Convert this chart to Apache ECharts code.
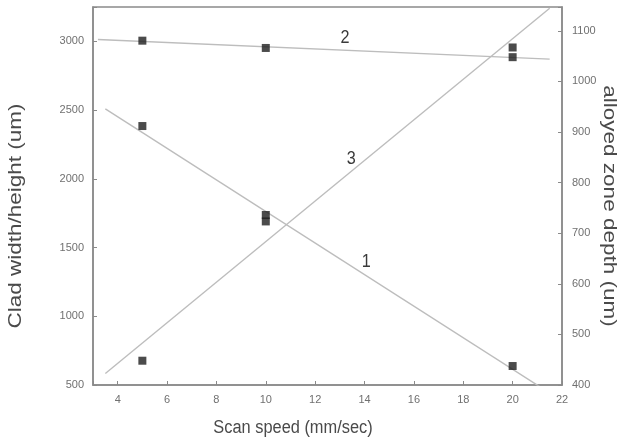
<!DOCTYPE html>
<html>
<head>
<meta charset="utf-8">
<script src="https://cdn.jsdelivr.net/npm/echarts@6/dist/echarts.min.js"></script>
<style>
  html, body { margin: 0; padding: 0; background: #fff; }
  #chart { width: 624px; height: 445px; }
</style>
</head>
<body>
<div id="chart"></div>
<script>
// Scan speeds (mm/sec) at which samples were clad
const scanSpeed = [5, 10, 20];
// Curve 1: clad height (um), left axis
const cladHeight = [2384, 1690, 638];
// Curve 2: clad width (um), left axis
const cladWidth = [3005, 2952, 2885];
// Curve 3: alloyed zone depth (um), right axis
const zoneDepth = [448, 736, 1067];

// Speed span over which each fitted line is drawn
const fitSpan1 = [3.5, 21.5];
const fitSpan2 = [3.2, 21.5];
const fitSpan3 = [3.5, 21.5];

// Curve numbers and where they sit in data space (x, y, y-axis index)
const curveNames = ['1', '2', '3'];
const curveNameAt = [[14.07, 1394, 0], [13.21, 3027, 0], [13.46, 847, 1]];

// Least-squares straight line through (x, y)
function linearFit(xs, ys) {
  const n = xs.length;
  const mx = xs.reduce((a, b) => a + b, 0) / n;
  const my = ys.reduce((a, b) => a + b, 0) / n;
  let sxy = 0, sxx = 0;
  for (let i = 0; i < n; i++) {
    sxy += (xs[i] - mx) * (ys[i] - my);
    sxx += (xs[i] - mx) * (xs[i] - mx);
  }
  const k = sxy / sxx;
  return x => my + k * (x - mx);
}
function fitLine(ys, span) {
  const f = linearFit(scanSpeed, ys);
  return span.map(x => [x, f(x)]);
}
const pairs = ys => scanSpeed.map((x, i) => [x, ys[i]]);

const FONT = 'Liberation Sans, Arial, sans-serif';
const AXIS_COLOR = '#8a8a8a';
const TITLE_COLOR = '#4a4a4a';
const LABEL = { color: '#707070', fontSize: 11, fontFamily: FONT };
// lettering in this figure runs a little narrow: squeeze horizontally, stretch vertically
const SQUEEZE = 0.91;
const STRETCH = 1.25;

const lineStyle = { color: '#bdbdbd', width: 1.4 };
const pointStyle = { color: '#1e1e1e' };

const chart = echarts.init(document.getElementById('chart'), null, { renderer: 'canvas' });

const axisTitles = [
  { type: 'text', x: 16, y: 216, rotation: Math.PI / 2, scaleX: STRETCH,
    style: { text: 'Clad width/height (um)', fill: TITLE_COLOR, font: '18px ' + FONT,
             textAlign: 'center', textVerticalAlign: 'middle' } },
  { type: 'text', x: 609, y: 206, rotation: -Math.PI / 2, scaleX: STRETCH,
    style: { text: 'alloyed zone depth (um)', fill: TITLE_COLOR, font: '18px ' + FONT,
             textAlign: 'center', textVerticalAlign: 'middle' } },
  { type: 'text', x: 293, y: 428, scaleX: SQUEEZE,
    style: { text: 'Scan speed (mm/sec)', fill: TITLE_COLOR, font: '18px ' + FONT,
             textAlign: 'center', textVerticalAlign: 'middle' } }
];

chart.setOption({
  animation: false,
  backgroundColor: '#ffffff',
  grid: {
    left: 93, right: 62, top: 7, bottom: 60,
    show: true, borderColor: AXIS_COLOR, borderWidth: 1.5, backgroundColor: 'transparent'
  },
  xAxis: {
    type: 'value', min: 3, max: 22, splitNumber: 9,
    axisLine: { lineStyle: { color: AXIS_COLOR, width: 1.5 } },
    axisTick: { inside: true, length: 4, lineStyle: { color: AXIS_COLOR } },
    axisLabel: Object.assign({ margin: 9, formatter: v => (v % 2 === 0 ? String(v) : '') }, LABEL),
    splitLine: { show: false }
  },
  yAxis: [
    {
      type: 'value', position: 'left', min: 500, max: 3250, interval: 500,
      axisLine: { show: true, lineStyle: { color: AXIS_COLOR, width: 1.5 } },
      axisTick: { show: true, inside: true, length: 4, lineStyle: { color: AXIS_COLOR } },
      axisLabel: Object.assign({ margin: 9, formatter: v => (v % 500 === 0 ? String(v) : '') }, LABEL),
      splitLine: { show: false }
    },
    {
      type: 'value', position: 'right', min: 400, max: 1147, interval: 100,
      axisLine: { show: true, lineStyle: { color: AXIS_COLOR, width: 1.5 } },
      axisTick: { show: true, inside: true, length: 4, lineStyle: { color: AXIS_COLOR } },
      axisLabel: Object.assign({ margin: 10, formatter: v => (v % 100 === 0 ? String(v) : '') }, LABEL),
      splitLine: { show: false }
    }
  ],
  graphic: axisTitles,
  series: [
    { name: 'fit 1', type: 'line', yAxisIndex: 0, data: fitLine(cladHeight, fitSpan1),
      showSymbol: false, lineStyle, clip: true, z: 2 },
    { name: 'fit 2', type: 'line', yAxisIndex: 0, data: fitLine(cladWidth, fitSpan2),
      showSymbol: false, lineStyle, clip: true, z: 2 },
    { name: 'fit 3', type: 'line', yAxisIndex: 1, data: fitLine(zoneDepth, fitSpan3),
      showSymbol: false, lineStyle, clip: true, z: 2 },
    { name: 'clad height', type: 'scatter', yAxisIndex: 0, data: pairs(cladHeight),
      symbol: 'rect', symbolSize: 8, itemStyle: pointStyle, z: 5 },
    { name: 'clad width', type: 'scatter', yAxisIndex: 0, data: pairs(cladWidth),
      symbol: 'rect', symbolSize: 8, itemStyle: pointStyle, z: 5 },
    { name: 'alloyed zone depth', type: 'scatter', yAxisIndex: 1, data: pairs(zoneDepth),
      symbol: 'rect', symbolSize: 8, itemStyle: pointStyle, z: 5 }
  ]
});

// Curve numbers, placed through the axes once the grid is laid out
const curveLabels = curveNameAt.map((p, i) => {
  const [px, py] = chart.convertToPixel({ xAxisIndex: 0, yAxisIndex: p[2] }, [p[0], p[1]]);
  return {
    type: 'text', x: px, y: py, scaleX: 0.9, z: 10,
    style: { text: curveNames[i], fill: '#3a3a3a', font: '18px ' + FONT,
             textAlign: 'center', textVerticalAlign: 'middle' }
  };
});
chart.setOption({ graphic: axisTitles.concat(curveLabels) });
</script>
</body>
</html>
